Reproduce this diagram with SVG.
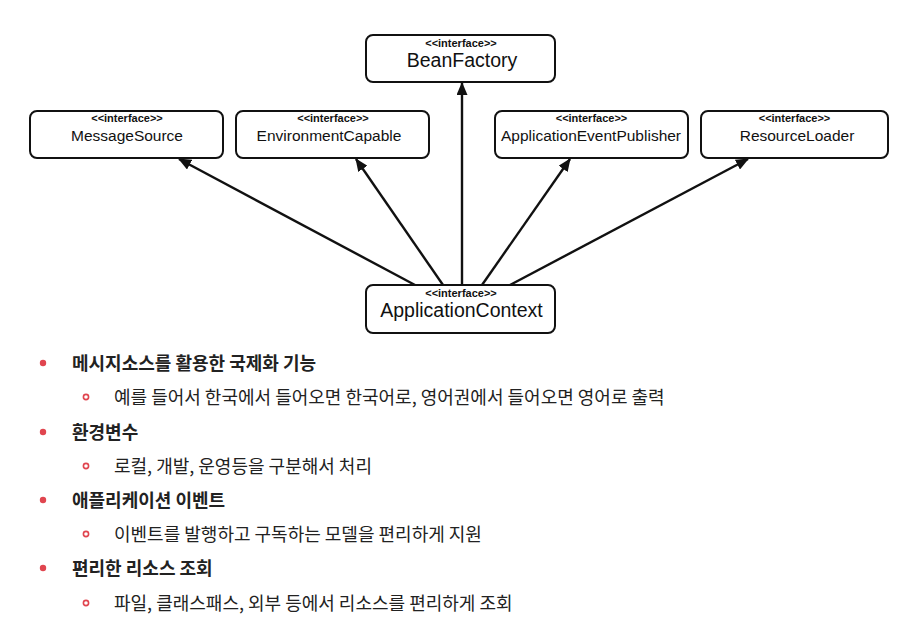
<svg xmlns="http://www.w3.org/2000/svg" width="904" height="628" viewBox="0 0 904 628">
<style>
.box{fill:#fff;stroke:#111;stroke-width:2}
.st{font-family:"Liberation Sans",Arial,sans-serif;font-size:11px;font-weight:bold;fill:#111;text-anchor:middle}
.nm{font-family:"Liberation Sans",Arial,sans-serif;font-size:15.5px;fill:#111;text-anchor:middle}
.big{font-size:19.5px}
.conn{stroke:#111;stroke-width:2.4;fill:none;marker-end:url(#ah)}
.b{font-family:"Noto Sans CJK KR","Noto Sans",sans-serif;font-size:18px;fill:#222;font-weight:bold}
.s{font-family:"Noto Sans CJK KR","Noto Sans",sans-serif;font-size:18px;fill:#222}
.dot{fill:#e0454f}
.ring{fill:none;stroke:#e0454f;stroke-width:1.6}
</style>
<defs>
<marker id="ah" markerWidth="13" markerHeight="11" refX="12" refY="5.5" orient="auto" markerUnits="userSpaceOnUse">
<path d="M0,0 L13,5.5 L0,11 Z" fill="#111"/>
</marker>
</defs>
<rect width="904" height="628" fill="#fff"/>
<g id="connectors">
<line class="conn" x1="415" y1="285" x2="179" y2="159"/>
<line class="conn" x1="443" y1="285" x2="356" y2="159"/>
<line class="conn" x1="462" y1="285" x2="462" y2="83"/>
<line class="conn" x1="482" y1="285" x2="570" y2="159"/>
<line class="conn" x1="510" y1="285" x2="748" y2="159"/>
</g>
<g id="BeanFactory">
<rect class="box" x="366" y="35" width="189" height="47" rx="7"/>
<text class="st" x="461" y="47">&lt;&lt;interface&gt;&gt;</text>
<text class="nm big" x="462" y="67">BeanFactory</text>
</g>
<g id="MessageSource">
<rect class="box" x="30" y="111" width="193" height="47" rx="7"/>
<text class="st" x="127" y="122">&lt;&lt;interface&gt;&gt;</text>
<text class="nm" x="127" y="141">MessageSource</text>
</g>
<g id="EnvironmentCapable">
<rect class="box" x="236" y="111" width="193" height="47" rx="7"/>
<text class="st" x="333" y="122">&lt;&lt;interface&gt;&gt;</text>
<text class="nm" x="329" y="141" font-size="14.8px">EnvironmentCapable</text>
</g>
<g id="ApplicationEventPublisher">
<rect class="box" x="495" y="111" width="193" height="47" rx="7"/>
<text class="st" x="591.5" y="122">&lt;&lt;interface&gt;&gt;</text>
<text class="nm" x="591" y="141" font-size="13.7px">ApplicationEventPublisher</text>
</g>
<g id="ResourceLoader">
<rect class="box" x="701" y="111" width="187" height="47" rx="7"/>
<text class="st" x="794.5" y="122">&lt;&lt;interface&gt;&gt;</text>
<text class="nm" x="797" y="141" font-size="15.3px">ResourceLoader</text>
</g>
<g id="ApplicationContext">
<rect class="box" x="366" y="285" width="189" height="48" rx="7"/>
<text class="st" x="461" y="297">&lt;&lt;interface&gt;&gt;</text>
<text class="nm big" x="461.5" y="317" font-size="20px">ApplicationContext</text>
</g>
<g id="bullets">
<circle class="dot" cx="43" cy="363" r="3.2"/>
<text class="b" x="72" y="369.5">메시지소스를 활용한 국제화 기능</text>
<circle class="ring" cx="86" cy="397" r="2.6"/>
<text class="s" x="114" y="403.5">예를 들어서 한국에서 들어오면 한국어로, 영어권에서 들어오면 영어로 출력</text>
<circle class="dot" cx="43" cy="432" r="3.2"/>
<text class="b" x="72" y="438.5">환경변수</text>
<circle class="ring" cx="86" cy="466" r="2.6"/>
<text class="s" x="114" y="472.5">로컬, 개발, 운영등을 구분해서 처리</text>
<circle class="dot" cx="43" cy="500" r="3.2"/>
<text class="b" x="72" y="506.5">애플리케이션 이벤트</text>
<circle class="ring" cx="86" cy="534" r="2.6"/>
<text class="s" x="114" y="540.5">이벤트를 발행하고 구독하는 모델을 편리하게 지원</text>
<circle class="dot" cx="43" cy="568" r="3.2"/>
<text class="b" x="72" y="574.5">편리한 리소스 조회</text>
<circle class="ring" cx="86" cy="603" r="2.6"/>
<text class="s" x="114" y="609.5">파일, 클래스패스, 외부 등에서 리소스를 편리하게 조회</text>
</g>
</svg>
